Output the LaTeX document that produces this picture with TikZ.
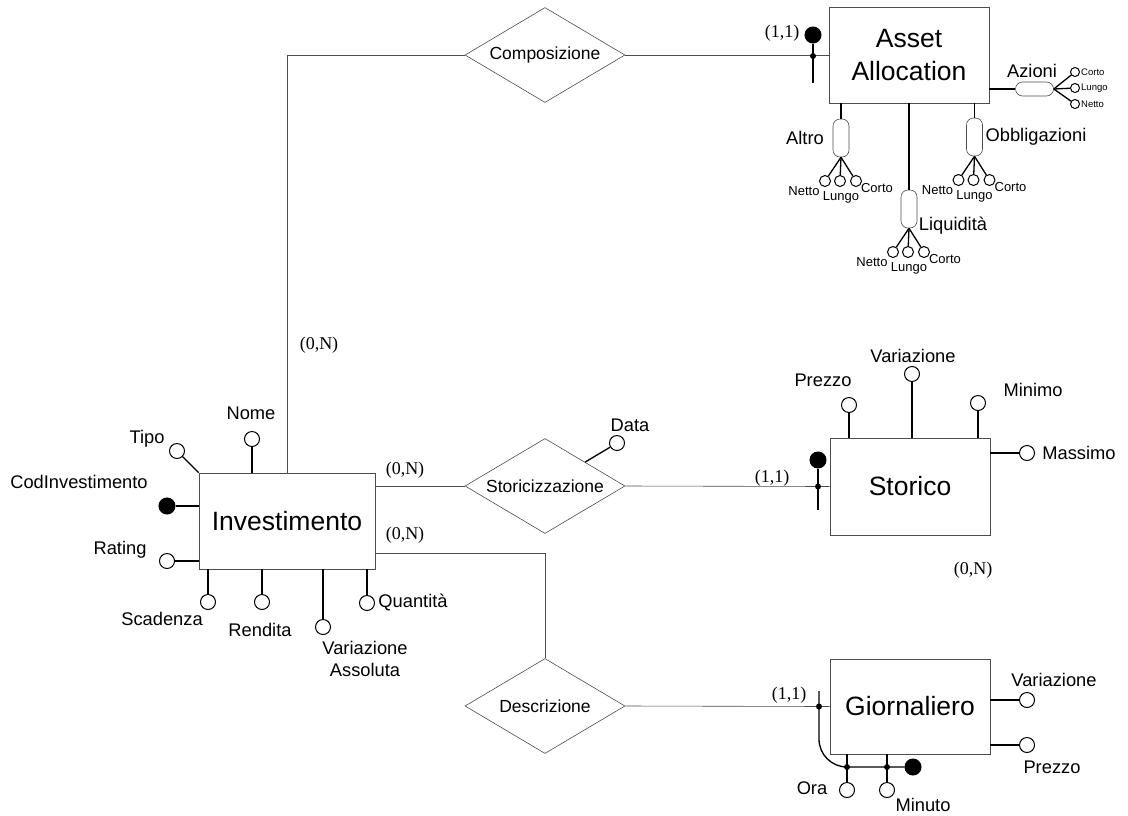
\documentclass[tikz,border=0pt]{standalone}
\usepackage{fontspec}
\setmainfont{Liberation Sans}
\newfontfamily\cardfont{Liberation Serif}
\usetikzlibrary{positioning,shapes.geometric}

\tikzset{
  entity/.style={draw=black!70, line width=0.6pt, minimum width=160pt, minimum height=96pt,
    align=center, font=\fontsize{26.5}{33}\selectfont},
  relation/.style={diamond, draw=black!70, line width=0.6pt, aspect=1.68, inner sep=0pt,
    minimum width=160pt, minimum height=95pt, font=\fontsize{17.5}{20}\selectfont},
  attr/.style={circle, draw, line width=1pt, fill=white, minimum size=15pt, inner sep=0pt},
  keyattr/.style={attr, fill=black, minimum size=16pt},
  subattr/.style={attr, minimum size=11pt},
  tinyattr/.style={attr, minimum size=9pt},
  capsule/.style={draw=black!70, line width=0.6pt, rounded corners=7pt, minimum width=16pt,
    minimum height=38pt, inner sep=0pt},
  link/.style={draw=black!70, line width=0.6pt},
  aline/.style={line width=1.3pt},
  lbl/.style={font=\fontsize{18.3}{21.5}\selectfont, inner sep=1pt, align=center},
  sublbl/.style={font=\fontsize{13}{15}\selectfont, inner sep=1pt},
  tinylbl/.style={font=\fontsize{9.5}{11}\selectfont, inner sep=0pt},
  card/.style={font=\cardfont\fontsize{18}{20}\selectfont, inner sep=1pt},
  jdot/.style={circle, fill, inner sep=0pt, minimum size=6pt},
}

\begin{document}
\begin{tikzpicture}[x=1pt, y=-1pt]
  \useasboundingbox (0,0) rectangle (1128,815);

  % Entities
  \node[entity, minimum width=176pt] (inv) at (287,521) {Investimento};
  \node[entity] (asset) at (909,55) {Asset\\Allocation};
  \node[entity, minimum height=97pt] (sto) at (910,486.5) {Storico};
  \node[entity, minimum height=95pt] (gio) at (910,706.5) {Giornaliero};

  % Relationships
  \node[relation] (compo) at (545,55) {Composizione};
  \node[relation] (stor) at (545,486) {Storicizzazione};
  \node[relation] (descr) at (545,706) {Descrizione};

  \draw[link] (inv.north) |- (compo.west);
  \draw[link] (compo.east) -- (asset.west);
  \draw[link] (inv.east |- stor.west) -- (stor.west);
  \draw[link] (stor.east) -- (sto.west);
  \coordinate (dk) at (375,553);
  \draw[link] (dk) -| (descr.north);
  \draw[link] (descr.east) -- (gio.west);

  % Cardinalities
  \node[card] (c1) at (319,345) {(0,N)};
  \node[card] (c2) at (405,470) {(0,N)};
  \node[card] (c3) at (405,535) {(0,N)};
  \node[card] (c4) at (782,33) {(1,1)};
  \node[card] (c5) at (772,478) {(1,1)};
  \node[card] (c6) at (973,570) {(0,N)};
  \node[card] (c7) at (789,695) {(1,1)};

  % Investimento attributes
  \node[attr] (tipo) at (177,451) {};
  \draw[aline] (tipo) -- (inv.north west);
  \node[lbl] at (147,439) {Tipo};
  \node[attr] (nome) at (252,439) {};
  \draw[aline] (nome) -- (nome |- inv.north);
  \node[lbl] at (251,413) {Nome};
  \node[keyattr] (cod) at (167,506) {};
  \draw[aline] (cod) -- (cod -| inv.west);
  \node[lbl] at (79,482) {CodInvestimento};
  \node[attr] (rat) at (167,561) {};
  \draw[aline] (rat) -- (rat -| inv.west);
  \node[lbl] at (120,550) {Rating};
  \node[attr] (sca) at (208,602) {};
  \draw[aline] (sca) -- (sca |- inv.south);
  \node[lbl] at (162,619) {Scadenza};
  \node[attr] (ren) at (262,602) {};
  \draw[aline] (ren) -- (ren |- inv.south);
  \node[lbl] at (260,630) {Rendita};
  \node[attr] (vass) at (323,627) {};
  \draw[aline] (vass) -- (vass |- inv.south);
  \node[lbl] at (365,659) {Variazione\\Assoluta};
  \node[attr] (qua) at (367,603) {};
  \draw[aline] (qua) -- (qua |- inv.south);
  \node[lbl] at (413,602) {Quantità};

  % Storicizzazione attribute
  \node[attr] (data) at (617,443) {};
  \draw[aline] (data) -- (stor.north east);
  \node[lbl] at (630,425) {Data};

  % Asset Allocation identifier
  \node[keyattr] (aid) at (813,35) {};
  \coordinate (aidb) at (813,83);
  \draw[aline] (aid) -- (aidb);
  \node[jdot] (aj) at (813,56) {};

  % Azioni
  \node[capsule, minimum width=38pt, minimum height=14pt] (azi) at (1034.5,89) {};
  \draw[aline] (azi) -- (azi -| asset.east);
  \node[lbl] at (1032,71) {Azioni};
  \foreach \s/\y/\t in {c/72/Corto, l/88/Lungo, n/104/Netto} {
    \node[tinyattr] (azi\s) at (1075,\y) {};
    \draw[aline] (azi.east) -- (azi\s);
    \node[tinylbl, anchor=west] at (1081,\y) {\t};
  }

  % Altro, Liquidita, Obbligazioni
  \node[capsule] (altro) at (841,138) {};
  \node[capsule] (liq) at (909,209) {};
  \node[capsule] (obb) at (974.5,137) {};
  \draw[aline] (altro) -- (altro |- asset.south);
  \draw[aline] (liq) -- (liq |- asset.south);
  \draw[aline] (obb) -- (obb |- asset.south);
  \node[lbl] at (805,138) {Altro};
  \node[lbl] at (953,226) {Liquidità};
  \node[lbl] at (1036,137) {Obbligazioni};
  \foreach \g in {altro,liq,obb} {
    \foreach \s/\dx/\t/\lx/\ly in {n/-16/Netto/-37/53, l/-1/Lungo/0/59, c/15/Corto/36/50} {
      \node[subattr] (\g\s) at ([shift={(\dx,43)}]\g) {};
      \draw[aline] (\g.south) -- (\g\s);
      \node[sublbl] at ([shift={(\lx,\ly)}]\g) {\t};
    }
  }

  % Storico attributes and identifier
  \node[attr] (spre) at (849,405) {};
  \draw[aline] (spre) -- (spre |- sto.north);
  \node[lbl] at (823,380) {Prezzo};
  \node[attr] (svar) at (912,374) {};
  \draw[aline] (svar) -- (svar |- sto.north);
  \node[lbl] at (913,356) {Variazione};
  \node[attr] (smin) at (978,403) {};
  \draw[aline] (smin) -- (smin |- sto.north);
  \node[lbl] at (1033,390) {Minimo};
  \node[attr] (smas) at (1027,453) {};
  \draw[aline] (smas) -- (smas -| sto.east);
  \node[lbl] at (1079,453) {Massimo};
  \node[keyattr] (sid) at (818,460) {};
  \coordinate (sidb) at (818,510);
  \draw[aline] (sid) -- (sidb);
  \node[jdot] (sj) at (818,486.5) {};

  % Giornaliero attributes and identifier
  \node[attr] (gvar) at (1027,700) {};
  \draw[aline] (gvar) -- (gvar -| gio.east);
  \node[lbl] at (1054,680) {Variazione};
  \node[attr] (gpre) at (1027,745) {};
  \draw[aline] (gpre) -- (gpre -| gio.east);
  \node[lbl] at (1052,767) {Prezzo};
  \node[attr] (ora) at (847,790) {};
  \draw[aline] (ora) -- (ora |- gio.south);
  \node[lbl] at (812,788) {Ora};
  \node[attr] (minu) at (887,790) {};
  \draw[aline] (minu) -- (minu |- gio.south);
  \node[lbl] at (923,805) {Minuto};
  \node[keyattr] (gkey) at (913,767) {};
  \coordinate (gtop) at (819,691);
  \draw[aline, rounded corners=28pt] (gtop) |- (gkey);
  \node[jdot] (gj1) at (819,706.5) {};
  \node[jdot] (gj2) at (847,767) {};
  \node[jdot] (gj3) at (887,767) {};
\end{tikzpicture}
\end{document}
